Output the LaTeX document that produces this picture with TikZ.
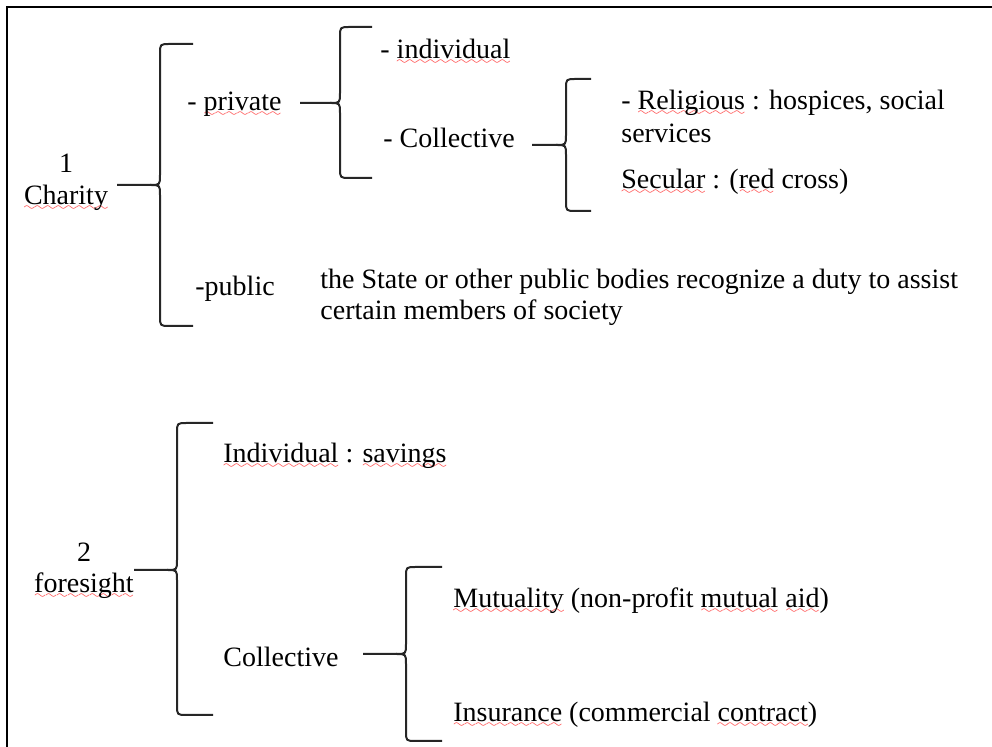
\documentclass[tikz,border=0pt]{standalone}
\usepackage{fontspec}
\setmainfont{Liberation Serif}
\usetikzlibrary{positioning}

% red wavy line under the flagged words
\font\wavefont=lasy6 scaled 1000
\newcommand\spell[1]{\setbox0\hbox{#1}\rlap{\lower3pt\hbox to \wd0{\color{red!80}\xleaders\hbox{\wavefont\char58}\hfil}}\box0{}}

\tikzset{
  word/.style={anchor=base west,inner sep=0pt,font=\fontsize{14}{16}\selectfont},
  brace/.style={line width=1pt,black!85,line join=round},
}

\begin{document}
\begin{tikzpicture}[x=0.5pt,y=-0.5pt]
\useasboundingbox (0,0) rectangle (992,747);

%cadre
        \draw[line width=1pt] (7,747) -- (7,7) -- (992,7);

% 1 Charity
        \node[word,anchor=base] (one) at (66,173) {1};
        \node[word,anchor=base] (charity) at (66,205) {\spell{Charity}};
        \node[word] (private) at (187,111) {- \spell{private}};
        \node[word] (public) at (195,296) {-public};
        \node[word] (duty) at (320,289) {the State or other public bodies recognize a duty to assist};
        \node[word] (duty2) at (320,320) {certain members of society};
        \node[word] (indiv) at (380,59) {- \spell{individual}};
        \node[word] (coll) at (383,148) {- Collective};
        \node[word] (relig) at (621,110) {- \spell{Religious} : hospices, social};
        \node[word] (relig2) at (621,143) {services};
        \node[word] (secular) at (621,189) {\spell{Secular} : (\spell{red} cross)};

% 2 foresight
        \node[word,anchor=base] (two) at (84,562) {2};
        \node[word,anchor=base] (foresight) at (84,593) {\spell{foresight}};
        \node[word] (savings) at (223,463) {\spell{Individual} : \spell{savings}};
        \node[word] (coll2) at (223,667) {Collective};
        \node[word] (mutual) at (453,608) {\spell{Mutuality} (non-profit \spell{mutual} \spell{aid})};
        \node[word] (insur) at (453,722) {\spell{Insurance} (commercial \spell{contract})};

% Accolades
% Variables: lead, x, top, middle, bottom, arm end
        \def\mkBrace#1#2#3#4#5#6{
            \draw[brace] (#1) -- (#2-10,#4) .. controls (#2,#4) .. (#2,#4-10)
                -- (#2,#3+10) .. controls (#2,#3) .. (#2+10,#3) -- (#6,#3);
            \draw[brace] (#2-10,#4) .. controls (#2,#4) .. (#2,#4+10)
                -- (#2,#5-10) .. controls (#2,#5) .. (#2+10,#5) -- (#6,#5);
        }

        \coordinate (c1) at (117,185);
        \coordinate (c2) at (300,103);
        \coordinate (c3) at (532,145);
        \coordinate (c4) at (134,570);
        \coordinate (c5) at (363,654);

\mkBrace{c1}{160}{44}{185}{326}{193};
\mkBrace{c2}{340}{27}{103}{178}{372};
\mkBrace{c3}{566}{79}{145}{211}{591};
\mkBrace{c4}{177}{423}{570}{715}{213};
\mkBrace{c5}{406}{567}{654}{741}{442};

\end{tikzpicture}
\end{document}
